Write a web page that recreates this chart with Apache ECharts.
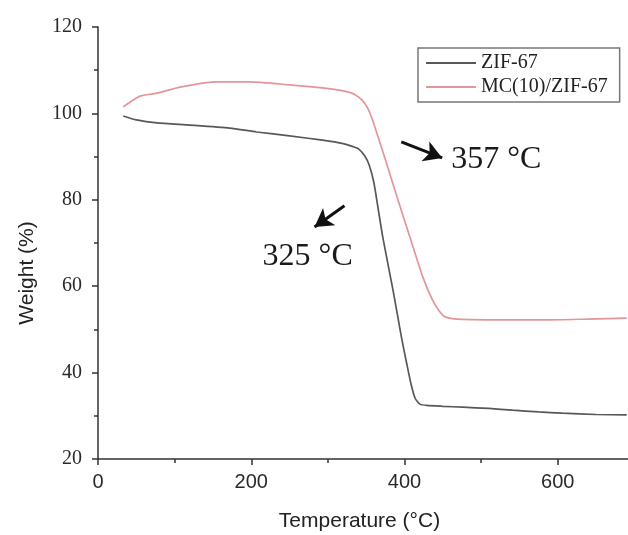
<!DOCTYPE html>
<html>
<head>
<meta charset="utf-8">
<script src="https://cdn.jsdelivr.net/npm/echarts@6.0.0/dist/echarts.min.js"></script>
<style>
html,body{margin:0;padding:0;background:#fff;}
#chart{width:628px;height:535px;}
</style>
</head>
<body>
<div id="chart"></div>
<script>
// ---- data ----
const seriesNames = ['ZIF-67', 'MC(10)/ZIF-67'];

const zifTemp   = [33, 50, 77, 120, 172, 207, 250, 293, 320, 333, 340, 348, 354, 360, 366, 372, 385, 396, 403, 409, 414, 420, 429, 450, 476, 510, 541, 575, 606, 650, 690];
const zifWeight = [99.4, 98.5, 97.8, 97.3, 96.6, 95.7, 94.8, 93.8, 93.0, 92.3, 91.8, 90.2, 88.0, 84.0, 77.5, 71.0, 59.1, 48.2, 42.0, 37.0, 34.0, 32.7, 32.4, 32.2, 32.0, 31.7, 31.3, 30.9, 30.6, 30.3, 30.2];

const mcTemp   = [33, 45, 55, 77, 107, 155, 198, 250, 293, 320, 335, 345, 352, 358, 364, 372, 381, 390, 407, 424, 436, 445, 452, 462, 476, 520, 585, 640, 690];
const mcWeight = [101.5, 103.0, 104.0, 104.7, 106.1, 107.3, 107.3, 106.6, 105.9, 105.2, 104.4, 103.0, 101.2, 98.6, 95.4, 91.0, 85.9, 80.8, 71.4, 62.1, 57.0, 54.3, 53.0, 52.5, 52.3, 52.2, 52.2, 52.4, 52.6];

const xTickValues = [0, 200, 400, 600];
const yTickValues = [20, 40, 60, 80, 100, 120];

const annotationLabels = ['357 °C', '325 °C'];
const annotationTextAt = [[461, 88.75], [214.8, 66.3]];
const arrowFrom = [[395.8, 93.4], [321.6, 78.6]];
const arrowTo   = [[449.2, 89.7], [282.6, 73.7]];

// ---- chart ----
const zip = (a, b) => a.map((v, i) => [v, b[i]]);
const chart = echarts.init(document.getElementById('chart'), null, {renderer: 'canvas'});

const axisColor = '#333';
const option = {
  animation: false,
  backgroundColor: '#fff',
  grid: {left: 98, top: 27, width: 613, height: 432, outerBoundsMode: 'none'},
  legend: {
    data: seriesNames,
    orient: 'vertical',
    left: 418, top: 48,
    padding: [5, 12, 5, 8],
    itemGap: 4,
    itemWidth: 50, itemHeight: 2,
    icon: 'rect',
    borderColor: '#777', borderWidth: 1.5,
    textStyle: {fontFamily: 'Liberation Serif', fontSize: 20, color: '#222'},
    selectedMode: false
  },
  xAxis: {
    type: 'value', min: 0, max: 800, interval: 200,
    axisLine: {lineStyle: {color: axisColor, width: 1.5}},
    axisTick: {length: 6, lineStyle: {color: axisColor, width: 1.5}},
    minorTick: {show: true, splitNumber: 2, length: 4, lineStyle: {color: axisColor, width: 1.5}},
    splitLine: {show: false},
    axisLabel: {
      fontFamily: 'Liberation Sans', fontSize: 20, color: '#2a2a2a', margin: 13,
      formatter: v => xTickValues.includes(v) ? String(v) : ''
    },
    name: 'Temperature (°C)', nameLocation: 'middle', nameGap: 52,
    nameTextStyle: {fontFamily: 'Liberation Sans', fontSize: 21, color: '#222', padding: [0, 90, 0, 0]}
  },
  yAxis: {
    type: 'value', min: 20, max: 120, interval: 20,
    axisLine: {show: true, lineStyle: {color: axisColor, width: 1.5}},
    axisTick: {show: true, length: 6, lineStyle: {color: axisColor, width: 1.5}},
    minorTick: {show: true, splitNumber: 2, length: 4, lineStyle: {color: axisColor, width: 1.5}},
    splitLine: {show: false},
    axisLabel: {
      fontFamily: 'Liberation Serif', fontSize: 20, color: '#2a2a2a', margin: 16,
      formatter: v => yTickValues.includes(v) ? String(v) : ''
    },
    name: 'Weight (%)', nameLocation: 'middle', nameGap: 60,
    nameTextStyle: {fontFamily: 'Liberation Sans', fontSize: 21, color: '#222', padding: [0, 60, 0, 0]}
  },
  series: [
    {
      name: seriesNames[0], type: 'line', data: zip(zifTemp, zifWeight),
      showSymbol: false, smooth: 0.2, color: '#585858',
      lineStyle: {width: 1.7, color: '#585858'},
      emphasis: {disabled: true},
      markLine: {
        silent: true, animation: false,
        symbol: ['none', 'arrow'], symbolSize: [16, 18],
        lineStyle: {color: '#111', width: 3, type: 'solid'},
        label: {show: false},
        emphasis: {disabled: true},
        data: arrowFrom.map((f, i) => [{coord: f}, {coord: arrowTo[i]}])
      }
    },
    {
      name: seriesNames[1], type: 'line', data: zip(mcTemp, mcWeight),
      showSymbol: false, smooth: 0.2, color: '#e39597',
      lineStyle: {width: 1.7, color: '#e39597'},
      emphasis: {disabled: true}
    }
  ]
};
chart.setOption(option);

const graphics = annotationLabels.map((txt, i) => {
  const p = chart.convertToPixel({gridIndex: 0}, annotationTextAt[i]);
  return {
    type: 'text', left: p[0], top: p[1] - 18, silent: true,
    style: {text: txt, fontFamily: 'Liberation Serif', fontSize: 32, fill: '#1a1a1a'}
  };
});
chart.setOption({graphic: graphics});
</script>
</body>
</html>
